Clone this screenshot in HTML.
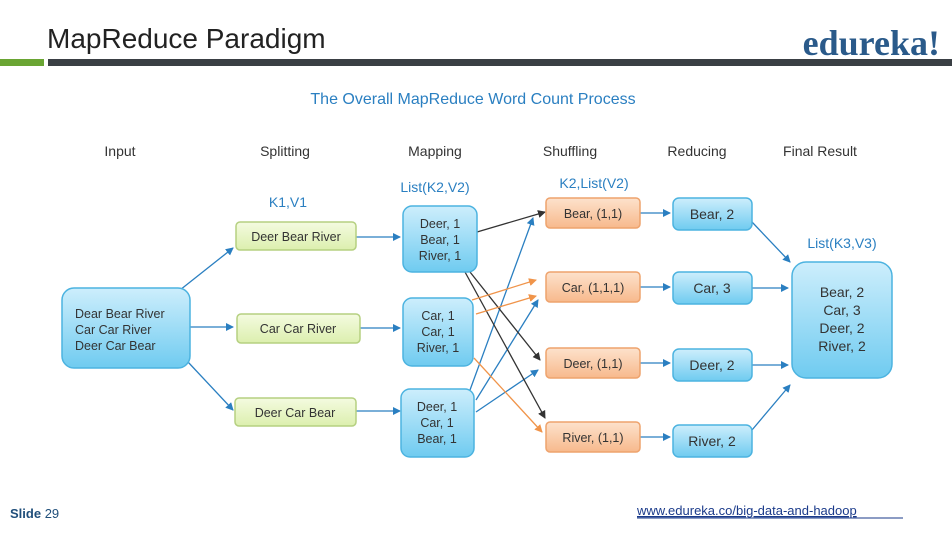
<!DOCTYPE html>
<html><head><meta charset="utf-8"><style>
body{margin:0;background:#fff;}
svg{display:block;font-family:"Liberation Sans",sans-serif;}
</style></head><body>
<svg width="952" height="534" viewBox="0 0 952 534" xmlns="http://www.w3.org/2000/svg">
<defs>
<linearGradient id="bl" x1="0" y1="0" x2="0" y2="1"><stop offset="0" stop-color="#cdeefc"/><stop offset="1" stop-color="#6fcbf0"/></linearGradient>
<linearGradient id="gr" x1="0" y1="0" x2="0" y2="1"><stop offset="0" stop-color="#f4fbe0"/><stop offset="1" stop-color="#dcefae"/></linearGradient>
<linearGradient id="or" x1="0" y1="0" x2="0" y2="1"><stop offset="0" stop-color="#fde2cc"/><stop offset="1" stop-color="#f7b98c"/></linearGradient>
<marker id="ab" markerWidth="8" markerHeight="8" refX="7" refY="4" orient="auto" markerUnits="userSpaceOnUse"><path d="M0,0 L8,4 L0,8 Z" fill="#2a7fc1"/></marker>
<marker id="ak" markerWidth="8" markerHeight="8" refX="7" refY="4" orient="auto" markerUnits="userSpaceOnUse"><path d="M0,0 L8,4 L0,8 Z" fill="#333"/></marker>
<marker id="ao" markerWidth="8" markerHeight="8" refX="7" refY="4" orient="auto" markerUnits="userSpaceOnUse"><path d="M0,0 L8,4 L0,8 Z" fill="#f0944a"/></marker>
</defs>
<text x="47" y="48" font-size="28" fill="#222">MapReduce Paradigm</text>
<text x="940" y="55" font-size="36" font-weight="bold" fill="#2a5a8a" text-anchor="end" font-family="Liberation Serif,serif">edureka!</text>
<rect x="0" y="59" width="44" height="7" fill="#6aa533"/>
<rect x="48" y="59" width="904" height="7" fill="#3a3f44"/>
<text x="473" y="104" font-size="16" fill="#2a7fc1" text-anchor="middle">The Overall MapReduce Word Count Process</text>
<g font-size="14" fill="#333" text-anchor="middle">
<text x="120" y="156">Input</text><text x="285" y="156">Splitting</text><text x="435" y="156">Mapping</text>
<text x="570" y="156">Shuffling</text><text x="697" y="156">Reducing</text><text x="820" y="156">Final Result</text>
</g>
<g font-size="14" fill="#2a7fc1" text-anchor="middle">
<text x="288" y="207">K1,V1</text><text x="435" y="192">List(K2,V2)</text><text x="594" y="188">K2,List(V2)</text><text x="842" y="248">List(K3,V3)</text>
</g>
<!-- connectors -->
<g stroke-width="1.3" fill="none">
<g stroke="#2a7fc1" marker-end="url(#ab)">
<line x1="180" y1="290" x2="233" y2="248"/><line x1="190" y1="327" x2="233" y2="327"/><line x1="188" y1="362" x2="233" y2="410"/>
<line x1="356" y1="237" x2="400" y2="237"/><line x1="360" y1="328" x2="400" y2="328"/><line x1="356" y1="411" x2="400" y2="411"/>
<line x1="470" y1="390" x2="533" y2="218"/><line x1="476" y1="400" x2="538" y2="300"/><line x1="476" y1="412" x2="538" y2="370"/>
<line x1="640" y1="213" x2="670" y2="213"/><line x1="640" y1="287" x2="670" y2="287"/><line x1="640" y1="363" x2="670" y2="363"/><line x1="640" y1="437" x2="670" y2="437"/>
<line x1="752" y1="288" x2="788" y2="288"/><line x1="752" y1="365" x2="788" y2="365"/>
<line x1="752" y1="222" x2="790" y2="262"/><line x1="752" y1="430" x2="790" y2="385"/>
</g>
<g stroke="#333" marker-end="url(#ak)">
<line x1="477" y1="232" x2="545" y2="212"/><line x1="470" y1="272" x2="540" y2="360"/><line x1="465" y1="272" x2="545" y2="418"/>
</g>
<g stroke="#f0944a" marker-end="url(#ao)">
<line x1="472" y1="300" x2="536" y2="280"/><line x1="476" y1="314" x2="536" y2="296"/><line x1="474" y1="358" x2="542" y2="432"/>
</g>
</g>
<!-- boxes -->
<rect x="62" y="288" width="128" height="80" rx="12" fill="url(#bl)" stroke="#4cb3e0" stroke-width="1.5"/>
<g font-size="12.5" fill="#333"><text x="75" y="318">Dear Bear River</text><text x="75" y="334">Car Car River</text><text x="75" y="350">Deer Car Bear</text></g>
<g fill="url(#gr)" stroke="#b5d080" stroke-width="1.5">
<rect x="236" y="222" width="120" height="28" rx="4"/><rect x="237" y="314" width="123" height="29" rx="4"/><rect x="235" y="398" width="121" height="28" rx="4"/>
</g>
<g font-size="12.5" fill="#333" text-anchor="middle"><text x="296" y="241">Deer Bear River</text><text x="298" y="333">Car Car River</text><text x="295" y="417">Deer Car Bear</text></g>
<g fill="url(#bl)" stroke="#4cb3e0" stroke-width="1.5">
<rect x="403" y="206" width="74" height="66" rx="9"/><rect x="403" y="298" width="70" height="68" rx="9"/><rect x="401" y="389" width="73" height="68" rx="9"/>
</g>
<g font-size="12.5" fill="#333" text-anchor="middle">
<text x="440" y="228">Deer, 1</text><text x="440" y="244">Bear, 1</text><text x="440" y="260">River, 1</text>
<text x="438" y="320">Car, 1</text><text x="438" y="336">Car, 1</text><text x="438" y="352">River, 1</text>
<text x="437" y="411">Deer, 1</text><text x="437" y="427">Car, 1</text><text x="437" y="443">Bear, 1</text>
</g>
<g fill="url(#or)" stroke="#eea36d" stroke-width="1.5">
<rect x="546" y="198" width="94" height="30" rx="4"/><rect x="546" y="272" width="94" height="30" rx="4"/><rect x="546" y="348" width="94" height="30" rx="4"/><rect x="546" y="422" width="94" height="30" rx="4"/>
</g>
<g font-size="12.5" fill="#333" text-anchor="middle">
<text x="593" y="218">Bear, (1,1)</text><text x="593" y="292">Car, (1,1,1)</text><text x="593" y="368">Deer, (1,1)</text><text x="593" y="442">River, (1,1)</text>
</g>
<g fill="url(#bl)" stroke="#4cb3e0" stroke-width="1.5">
<rect x="673" y="198" width="79" height="32" rx="6"/><rect x="673" y="272" width="79" height="32" rx="6"/><rect x="673" y="349" width="79" height="32" rx="6"/><rect x="673" y="425" width="79" height="32" rx="6"/>
</g>
<g font-size="14" fill="#333" text-anchor="middle">
<text x="712" y="219">Bear, 2</text><text x="712" y="293">Car, 3</text><text x="712" y="370">Deer, 2</text><text x="712" y="446">River, 2</text>
</g>
<rect x="792" y="262" width="100" height="116" rx="14" fill="url(#bl)" stroke="#4cb3e0" stroke-width="1.5"/>
<g font-size="14" fill="#333" text-anchor="middle">
<text x="842" y="297">Bear, 2</text><text x="842" y="315">Car, 3</text><text x="842" y="333">Deer, 2</text><text x="842" y="351">River, 2</text>
</g>
<text x="10" y="518" font-size="13" fill="#1f4e7a"><tspan font-weight="bold">Slide</tspan> 29</text>
<text x="637" y="515" font-size="13" fill="#1a3a8a" text-decoration="underline">www.edureka.co/big-data-and-hadoop</text>
<line x1="637" y1="518" x2="903" y2="518" stroke="#1a3a8a" stroke-width="1"/>
</svg>
</body></html>
